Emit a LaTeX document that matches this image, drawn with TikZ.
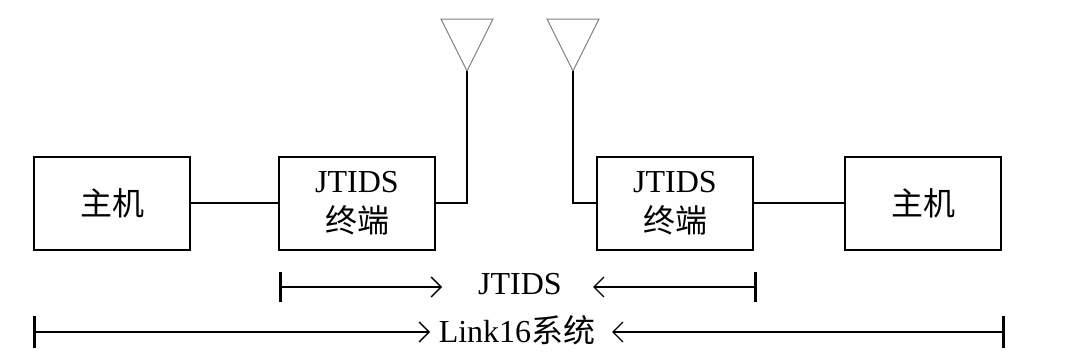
\documentclass[tikz,border=0pt]{standalone}
\usepackage{fontspec}
\setmainfont{Liberation Serif}
\newfontfamily\cjk{Noto Sans CJK SC}
\usetikzlibrary{arrows.meta}
\begin{document}
\begin{tikzpicture}[x=1pt, y=-1pt, >={Straight Barb[length=10pt,width=20pt]},
  unit/.style={draw, line width=2pt, minimum width=156pt, minimum height=93pt,
    inner sep=0pt, align=center, font=\fontsize{32}{40}\selectfont},
  wire/.style={line width=2pt},
  antenna/.style={draw=gray, line width=1pt},
  dimline/.style={line width=1.3pt},
  dimtext/.style={inner xsep=0pt, font=\fontsize{32}{38}\selectfont}]
  \useasboundingbox (0,0) rectangle (1080,364);
  % units
  \node[unit] (hostL) at (112,203) {\cjk 主机};
  \node[unit] (termL) at (357,203) {JTIDS\\\cjk 终端};
  \node[unit] (termR) at (675,203) {JTIDS\\\cjk 终端};
  \node[unit] (hostR) at (923,203) {\cjk 主机};
  \draw[wire] (hostL) -- (termL);
  \draw[wire] (termR) -- (hostR);
  % antennas
  \coordinate (tipL) at (467,71);
  \coordinate (tipR) at (573,71);
  \draw[antenna] (441,19) -- (493,19) -- (tipL) -- cycle;
  \draw[antenna] (547,19) -- (599,19) -- (tipR) -- cycle;
  \draw[wire] (tipL) |- (termL.east);
  \draw[wire] (tipR) |- (termR.west);
  % ranges
  \node[dimtext] (jtids) at (520,284) {JTIDS};
  \node[dimtext] (link) at (517,330) {Link16{\cjk 系统}};
  \coordinate (jtidsA) at (442,287);
  \coordinate (jtidsB) at (593,287);
  \coordinate (linkA) at (430,332);
  \coordinate (linkB) at (612,332);
  \draw[dimline, {Bar[width=30pt,line width=3pt]}->] ([xshift=1pt]termL.west |- jtidsA) -- (jtidsA);
  \draw[dimline, {Bar[width=30pt,line width=3pt]}->] ([xshift=3pt]termR.east |- jtidsB) -- (jtidsB);
  \draw[dimline, {Bar[width=32pt,line width=3pt]}->] (hostL.west |- linkA) -- (linkA);
  \draw[dimline, {Bar[width=32pt,line width=3pt]}->] ([xshift=3pt]hostR.east |- linkB) -- (linkB);
\end{tikzpicture}
\end{document}
